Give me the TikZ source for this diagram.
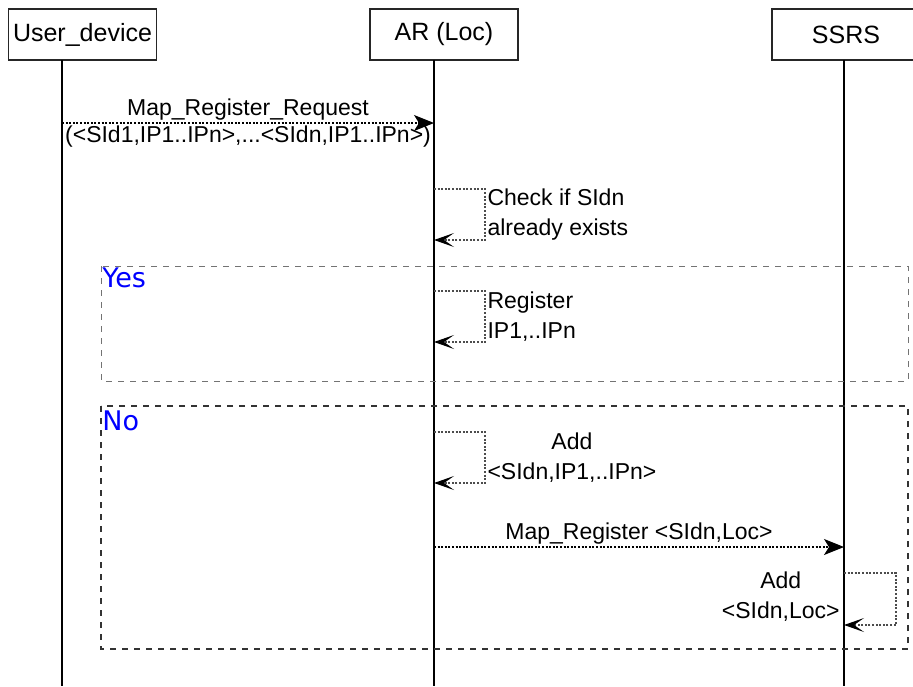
\documentclass[tikz,border=0pt]{standalone}
\usepackage{fontspec}
\setmainfont{Liberation Sans}
\newfontfamily\framefont{DejaVu Sans}
\usetikzlibrary{positioning, arrows.meta}

\begin{document}
\begin{tikzpicture}[
    x=0.5pt, y=-0.5pt,
    actor/.style={draw=black!85, line width=0.7pt, minimum width=74pt, minimum height=25.5pt,
        inner sep=0pt, font=\fontsize{12.5}{15}\selectfont},
    life/.style={line width=0.75pt},
    msg/.style={dash pattern=on 1pt off 0.8pt, line width=0.55pt,
        -{Stealth[length=10pt, width=8pt, inset=2.5pt, black]}},
    selfmsg/.style={dash pattern=on 1pt off 0.8pt, line width=0.55pt, draw=black!70,
        -{Stealth[length=10pt, width=7pt, inset=5pt, black]}},
    txt/.style={font=\fontsize{11.5}{15}\selectfont, inner sep=1pt},
    altframe/.style={dashed, draw=black!55, line width=0.5pt},
    altframe2/.style={dashed, draw=black!80, line width=0.75pt},
    guard/.style={font=\framefont\fontsize{13.5}{15}\selectfont, text=blue, inner sep=0pt, anchor=north west},
]
\useasboundingbox (0,0) rectangle (913,686);

\node[actor] (user) at (82.5,34.5) {User\_device};
\node[actor] (ar)   at (444,34.5)  {AR (Loc)};
\node[actor] (ssrs) at (846,34.5)  {SSRS};

\coordinate (bot) at (0,686);
\coordinate (ud) at (62,60);
\coordinate (al) at (434,60);
\coordinate (sl) at (844,60);

% lifelines
\draw[life] (ud) -- (ud |- bot);
\draw[life] (al) -- (al |- bot);
\draw[life] (sl) -- (sl |- bot);

% alternative frames
\draw[altframe]  (101,266) rectangle (908,381);
\node[guard] (yes) at (102,267) {Yes};
\draw[altframe2] (101,406) rectangle (908,649);
\node[guard] (no) at (102,410) {No};

% messages
\coordinate (req-s) at (62,123);
\coordinate (req-e) at (434,123);
\draw[msg] (req-s) -- (req-e)
    node[midway, above, txt] {Map\_Register\_Request}
    node[midway, below, txt] {(<SId1,IP1..IPn>,...<SIdn,IP1..IPn>)};

\coordinate (chk-s) at (434,189);
\coordinate (chk-e) at (434,240);
\draw[selfmsg] (chk-s) -- ++(51,0)
    -- node[right, txt, align=left] {Check if SIdn\\already exists} ++(0,51) -- (chk-e);

\coordinate (reg-s) at (434,291);
\coordinate (reg-e) at (434,342);
\draw[selfmsg] (reg-s) -- ++(51,0)
    -- node[right, txt, align=left] {Register\\IP1,..IPn} ++(0,51) -- (reg-e);

\coordinate (add-s) at (434,432);
\coordinate (add-e) at (434,483);
\draw[selfmsg] (add-s) -- ++(51,0)
    -- node[right, txt, align=center] {Add\\<SIdn,IP1,..IPn>} ++(0,51) -- (add-e);

\coordinate (map-s) at (434,547);
\coordinate (map-e) at (844,547);
\draw[msg] (map-s) -- (map-e) node[midway, above, txt] {Map\_Register <SIdn,Loc>};

\coordinate (loc-s) at (844,573);
\coordinate (loc-e) at (844,625);
\draw[selfmsg] (loc-s) -- ++(52,0) -- ++(0,52) -- (loc-e);
\node[txt, align=center, anchor=east] (addloc) at (842,597) {Add\\<SIdn,Loc>};
\end{tikzpicture}
\end{document}
